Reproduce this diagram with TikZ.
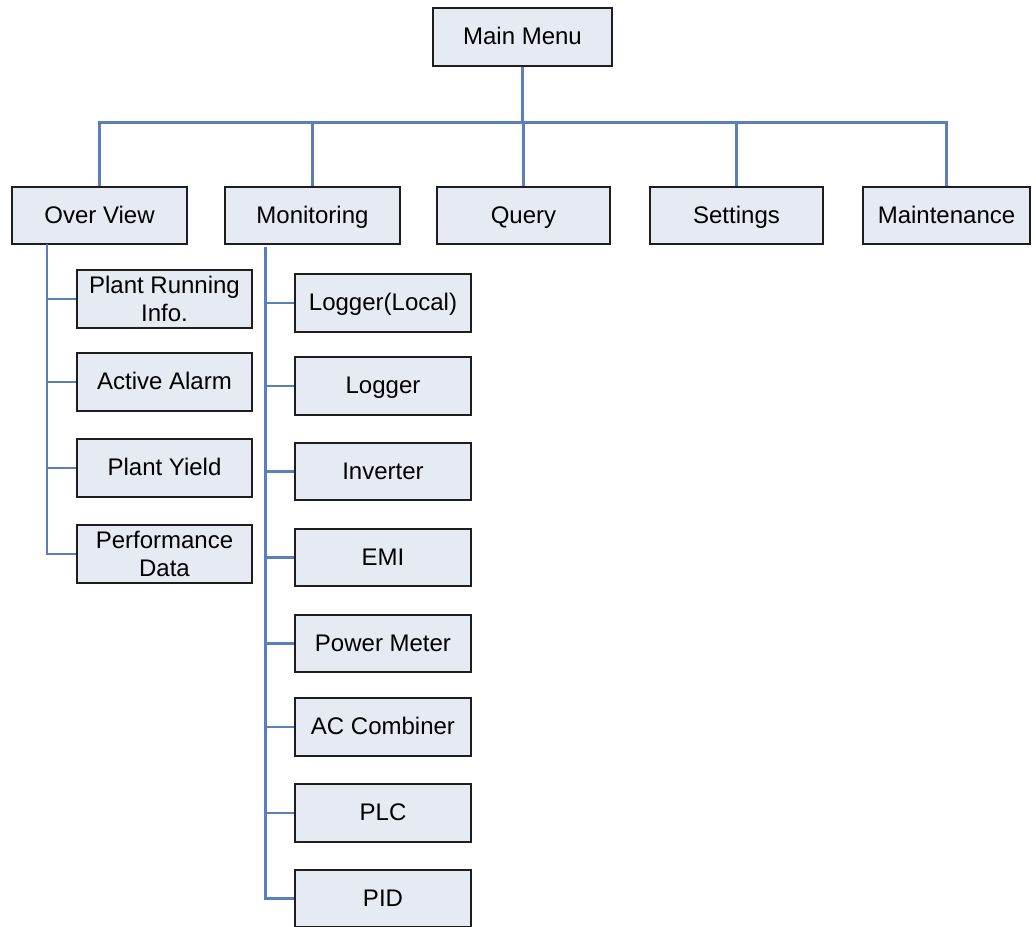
\documentclass[tikz,border=0pt]{standalone}
\usepackage{fontspec}
\setmainfont{Liberation Sans}
\definecolor{boxfill}{HTML}{E6EAF3}
\definecolor{boxline}{HTML}{1E1E1E}
\definecolor{linkblue}{HTML}{5A7EBE}
\begin{document}
\begin{tikzpicture}[x=0.75pt,y=-0.75pt,
  menubox/.style={draw=boxline,fill=boxfill,line width=1.5pt,inner sep=0pt,
    minimum width=131pt,minimum height=43pt,align=center,
    font=\fontsize{18}{21}\selectfont},
  oneline/.style={text height=15.6pt,text depth=3.8pt},
  subbox/.style={menubox,minimum width=131.5pt},
  link/.style={draw=linkblue,line width=1.6pt}]
\useasboundingbox (0,0) rectangle (1036,927);
\coordinate (bus) at (0,122.5);
\coordinate (ovt) at (47,244);
\coordinate (mot) at (265.5,247);
% top
\node[menubox,oneline,minimum width=134pt] (mm) at (522.5,37) {Main Menu};
\node[menubox,oneline] (ov) at (99.5,215.5) {Over View};
\node[menubox,oneline] (mo) at (312.5,215.5) {Monitoring};
\node[menubox,oneline,minimum width=130pt] (qu) at (523.5,215.5) {Query};
\node[menubox,oneline,minimum width=130pt] (se) at (736.5,215.5) {Settings};
\node[menubox,oneline,minimum width=125pt] (mt) at (946.5,215.5) {Maintenance};
% over view children
\node[subbox] (o1) at (164.5,299) {Plant Running\\Info.};
\node[subbox,oneline] (o2) at (164.5,382) {Active Alarm};
\node[subbox,oneline] (o3) at (164.5,468) {Plant Yield};
\node[subbox] (o4) at (164.5,554) {Performance\\Data};
% monitoring children
\node[subbox,oneline] (m1) at (383,303) {Logger(Local)};
\node[subbox,oneline] (m2) at (383,386) {Logger};
\node[subbox,oneline] (m3) at (383,471.5) {Inverter};
\node[subbox,oneline] (m4) at (383,557.5) {EMI};
\node[subbox,oneline] (m5) at (383,643.5) {Power Meter};
\node[subbox,oneline] (m6) at (383,727) {AC Combiner};
\node[subbox,oneline] (m7) at (383,813) {PLC};
\node[subbox,oneline] (m8) at (383,898.5) {PID};
% bus
\draw[link] (mm.south) -- (mm.south |- bus);
\draw[link] (ov.north) -- (ov.north |- bus) -| (mt.north);
\draw[link] (mo.north) -- (mo.north |- bus);
\draw[link] (qu.north) -- (qu.north |- bus);
\draw[link] (se.north) -- (se.north |- bus);
% over view trunk
\draw[link] (ovt) |- (o4.west);
\foreach \c in {o1,o2,o3} \draw[link] (ovt |- \c.west) -- (\c.west);
% monitoring trunk
\draw[link] (mot) |- (m8.west);
\foreach \c in {m1,m2,m3,m4,m5,m6,m7} \draw[link] (mot |- \c.west) -- (\c.west);
\end{tikzpicture}
\end{document}
